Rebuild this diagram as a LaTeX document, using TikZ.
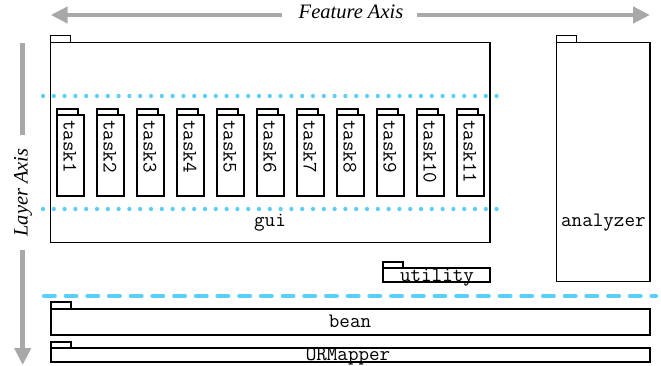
\documentclass[tikz,border=0pt]{standalone}
\usepackage{fontspec}
\setmainfont{Liberation Serif}
\usetikzlibrary{arrows.meta}
\definecolor{axisgray}{RGB}{168,168,168}
\definecolor{sepblue}{RGB}{92,206,250}
\begin{document}
\begin{tikzpicture}[x=1pt,y=-1pt,
  pkg/.style={draw, line width=1.3pt, inner sep=0pt, outer sep=0pt, rectangle},
  tabst/.style={draw, line width=1.3pt},
  lbl/.style={font=\ttfamily\fontsize{20.5}{20}\selectfont, inner sep=0pt},
  axlbl/.style={font=\fontsize{20.5}{24}\selectfont\itshape, inner sep=0pt},
  axisline/.style={draw=axisgray, line width=4.7pt},
  axtip/.style={-{Triangle[length=17pt,width=16pt]}},
  dotsep/.style={draw=sepblue, line width=4.3pt, line cap=round, dash pattern=on 0pt off 10.8pt},
  dashsep/.style={draw=sepblue, line width=4.3pt, line cap=round, dash pattern=on 10.7pt off 11pt}]
\useasboundingbox (0,0) rectangle (661,366);

% axes
\node[axlbl, anchor=base] (feat) at (351,19) {Feature Axis};
\coordinate (fl) at (50.7,15);
\coordinate (fle) at (282,15);
\coordinate (frs) at (417,15);
\coordinate (fr) at (650,15);
\draw[axisline, axtip] (fle) -- (fl);
\draw[axisline, axtip] (frs) -- (fr);

\node[axlbl, rotate=90, anchor=base] (layer) at (27.5,192.5) {Layer Axis};
\coordinate (lt) at (22.7,43);
\coordinate (ltm) at (22.7,135);
\coordinate (lbm) at (22.7,250);
\coordinate (lb) at (22.7,365);
\draw[axisline] (lt) -- (ltm);
\draw[axisline, axtip] (lbm) -- (lb);

% gui
\node[pkg, minimum width=439.3pt, minimum height=200pt] (gui) at (270.4,142.4) {};
\draw[tabst] (gui.north west) rectangle ++(20,-6.6);
\node[lbl, anchor=base] (guil) at (270,226.7) {gui};

% tasks
\foreach \i in {1,...,11} {
  \node[pkg, minimum width=27pt, minimum height=81pt] (task\i) at ({70.5+40*(\i-1)},155.5) {};
  \draw[tabst] (task\i.north west) rectangle ++(21,-6);
  \node[lbl, rotate=-90, anchor=base west] (tl\i) at ({63.5+40*(\i-1)},120) {task\i};
}

% analyzer
\node[pkg, minimum width=93.3pt, minimum height=239.5pt] (analyzer) at (603.4,162) {};
\draw[tabst] (analyzer.north west) rectangle ++(20,-6.6);
\node[lbl, anchor=base] (anl) at (603.4,226.7) {analyzer};

% utility
\node[pkg, minimum width=107pt, minimum height=14pt] (utility) at (436.5,275) {};
\draw[tabst] (utility.north west) rectangle ++(20,-6);
\node[lbl, anchor=base] (utl) at (437,281) {utility};

% bean
\node[pkg, minimum width=599pt, minimum height=26pt] (bean) at (350.5,322) {};
\draw[tabst] (bean.north west) rectangle ++(20,-7);
\node[lbl, anchor=base] (beanl) at (350,327) {bean};

% ORMapper
\node[pkg, minimum width=599pt, minimum height=14pt] (orm) at (350.5,355) {};
\draw[tabst] (orm.north west) rectangle ++(20,-6);
\node[lbl, anchor=base] (orml) at (348,360) {ORMapper};

% separators
\coordinate (d1l) at (43,96);
\coordinate (d1r) at (501,96);
\coordinate (d2l) at (43,209);
\coordinate (d2r) at (501,209);
\draw[dotsep] (d1l) -- (d1r);
\draw[dotsep] (d2l) -- (d2r);
\coordinate (dsl) at (44,296);
\coordinate (dsr) at (656,296);
\draw[dashsep] (dsl) -- (dsr);
\end{tikzpicture}
\end{document}
